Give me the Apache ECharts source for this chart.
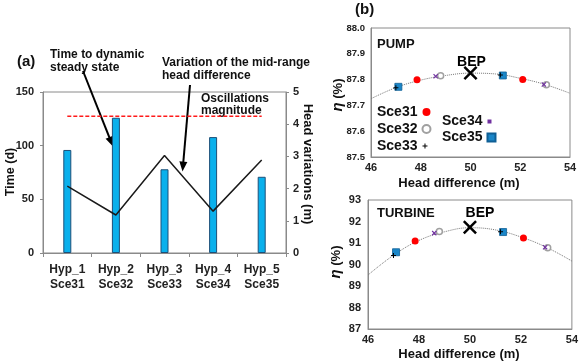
<!DOCTYPE html>
<html><head><meta charset="utf-8">
<script src="https://cdn.jsdelivr.net/npm/echarts@6/dist/echarts.min.js"></script>
<style>html,body{margin:0;padding:0;background:#fff}#c{width:581px;height:361px}</style>
</head><body><div id="c"></div>
<script>
// ---------- data (a) ----------
const categories = ['Hyp_1\nSce31', 'Hyp_2\nSce32', 'Hyp_3\nSce33', 'Hyp_4\nSce34', 'Hyp_5\nSce35'];
const timeToSteady = [96, 126, 78, 108, 71];          // Time (d)
const headVariation = [2.08, 1.18, 3.03, 1.30, 2.89]; // Head variations (m)
const oscMagnitude = 4.25;                            // red dashed level (m)
const timeTicks = [0, 50, 100, 150];
const headTicks = [0, 1, 2, 3, 4, 5];

// ---------- data (b) ----------
const headDiff = [46, 47, 48, 49, 50, 51, 52, 53, 54];
const pumpCurve = [87.726, 87.769, 87.798, 87.816, 87.825, 87.822, 87.805, 87.781, 87.747];
const turbineCurve = [89.51, 90.43, 91.12, 91.52, 91.71, 91.61, 91.28, 90.80, 90.16];

const pumpSce31 = [[47.85, 87.799], [52.10, 87.800]];
const pumpSce32 = [[48.80, 87.815], [53.05, 87.780]];
const pumpSce33 = [[47.00, 87.768], [51.20, 87.818]];
const pumpSce34 = [[48.60, 87.813], [52.95, 87.781]];
const pumpSce35 = [[47.10, 87.772], [51.30, 87.816]];
const pumpBEP = [[50.0, 87.826]];

const turbSce31 = [[47.85, 91.09], [52.10, 91.23]];
const turbSce32 = [[48.80, 91.53], [53.05, 90.78]];
const turbSce33 = [[47.00, 90.42], [51.20, 91.52]];
const turbSce34 = [[48.60, 91.46], [52.95, 90.80]];
const turbSce35 = [[47.10, 90.57], [51.30, 91.51]];
const turbBEP = [[50.0, 91.73]];

// ---------- styling ----------
const FF = 'Liberation Sans, Arial, sans-serif';
const AX = '#8a8a8a';
const PLUS = 'path://M4,0H6V4H10V6H6V10H4V6H0V4H4Z';
const XMARK = 'path://M0,2L2,0L8,6L14,0L16,2L10,8L16,14L14,16L8,10L2,16L0,14L6,8Z';

const sceStyle = {
  Sce31: {symbol: 'circle', symbolSize: 7, itemStyle: {color: '#ff0000', opacity: 1}},
  Sce32: {symbol: 'circle', symbolSize: 6, itemStyle: {color: '#ffffff', borderColor: '#a0a0a0', borderWidth: 1.5, opacity: 1}},
  Sce33: {symbol: PLUS, symbolSize: 5, itemStyle: {color: '#000000', opacity: 1}},
  Sce34: {symbol: PLUS, symbolSize: 6, symbolRotate: 45, itemStyle: {color: '#7030a0', opacity: 1}},
  Sce35: {symbol: 'rect', symbolSize: 7, itemStyle: {color: '#1a86c8', borderColor: '#0f5f95', borderWidth: 0.8, opacity: 1}}
};

function sceSeries(name, data, xi, yi) {
  return Object.assign({type: 'scatter', name, data, xAxisIndex: xi, yAxisIndex: yi, z: 4}, sceStyle[name]);
}
function curveSeries(name, data, xi, yi) {
  return {type: 'line', name, data: headDiff.map((x, i) => [x, data[i]]), xAxisIndex: xi, yAxisIndex: yi,
    smooth: 0.4, showSymbol: false, symbol: 'none', silent: true,
    lineStyle: {color: '#777', width: 1, type: 'dotted'}, z: 2};
}
function bepSeries(data, xi, yi, offset) {
  return {type: 'scatter', name: 'BEP', data, xAxisIndex: xi, yAxisIndex: yi, symbol: XMARK, symbolSize: 14,
    itemStyle: {color: '#000', opacity: 1}, z: 5,
    label: {show: true, position: 'top', distance: 1, offset, formatter: 'BEP',
      fontFamily: FF, fontSize: 14, fontWeight: 'bold', color: '#000'}};
}
function valAxisX(gi) {
  return {type: 'value', gridIndex: gi, min: 46, max: 54, interval: 2,
    axisLine: {show: true, lineStyle: {color: AX}}, axisTick: {show: false},
    splitLine: {show: false},
    axisLabel: {fontFamily: FF, fontSize: 11, fontWeight: 'bold', color: '#222', margin: 5}};
}
function leg(name, icon, size, left, cy) {
  return {data: [{name, icon}], left, top: cy - 8, align: 'right', orient: 'horizontal',
    itemWidth: size, itemHeight: size, padding: 0, itemGap: 0, selectedMode: false,
    textStyle: {fontFamily: FF, fontSize: 14, fontWeight: 'bold', color: '#111'}};
}

function arrow(x1, y1, x2, y2) {
  const dx = x2 - x1, dy = y2 - y1, L = Math.hypot(dx, dy), ux = dx / L, uy = dy / L;
  const hl = 10, hw = 4;
  const bx = x2 - ux * hl, by = y2 - uy * hl;
  return [
    {type: 'line', shape: {x1, y1, x2: bx + ux * 2, y2: by + uy * 2}, style: {stroke: '#000', lineWidth: 2}},
    {type: 'polygon', shape: {points: [[x2, y2], [bx - uy * hw, by + ux * hw], [bx + uy * hw, by - ux * hw]]}, style: {fill: '#000'}}
  ];
}
function txt(text, x, y, size, opts) {
  return Object.assign({type: 'text', x, y, style: Object.assign({text, fontFamily: FF, fontSize: size, fontWeight: 'bold',
    fill: '#111', align: 'left', verticalAlign: 'middle'}, (opts && opts.style) || {})}, opts && opts.el || {});
}

const chart = echarts.init(document.getElementById('c'), null, {renderer: 'canvas'});
chart.setOption({
  animation: false,
  backgroundColor: '#fff',
  grid: [
    {left: 43, top: 92, width: 243, height: 161, show: true, borderColor: AX, borderWidth: 1, containLabel: false},
    {left: 371, top: 28, width: 199, height: 129, show: true, borderColor: AX, borderWidth: 1},
    {left: 368, top: 200, width: 204, height: 129, show: true, borderColor: AX, borderWidth: 1}
  ],
  xAxis: [
    {type: 'category', gridIndex: 0, data: categories, boundaryGap: true,
      axisLine: {lineStyle: {color: AX}}, axisTick: {show: true, length: 4, lineStyle: {color: AX}},
      axisLabel: {fontFamily: FF, fontSize: 12, fontWeight: 'bold', color: '#222', lineHeight: 15, margin: 9}},
    valAxisX(1),
    valAxisX(2)
  ],
  yAxis: [
    {type: 'value', gridIndex: 0, min: timeTicks[0], max: timeTicks[timeTicks.length - 1], interval: 50,
      axisLine: {show: true, lineStyle: {color: AX}}, axisTick: {show: true, length: 3, lineStyle: {color: AX}},
      splitLine: {show: false},
      axisLabel: {fontFamily: FF, fontSize: 11, fontWeight: 'bold', color: '#222', margin: 9}},
    {type: 'value', gridIndex: 0, position: 'right', min: headTicks[0], max: headTicks[headTicks.length - 1], interval: 1,
      axisLine: {show: true, lineStyle: {color: AX}}, axisTick: {show: true, length: 3, lineStyle: {color: AX}},
      splitLine: {show: false},
      axisLabel: {fontFamily: FF, fontSize: 11, fontWeight: 'bold', color: '#222', margin: 7}},
    {type: 'value', gridIndex: 1, min: 87.5, max: 88.0, interval: 0.1,
      axisLine: {show: true, lineStyle: {color: AX}}, axisTick: {show: false}, splitLine: {show: false},
      axisLabel: {fontFamily: FF, fontSize: 9.5, fontWeight: 'bold', color: '#222', margin: 6,
        formatter: v => v.toFixed(1)}},
    {type: 'value', gridIndex: 2, min: 87, max: 93, interval: 1,
      axisLine: {show: true, lineStyle: {color: AX}}, axisTick: {show: false}, splitLine: {show: false},
      axisLabel: {fontFamily: FF, fontSize: 11, fontWeight: 'bold', color: '#222', margin: 7}}
  ],
  legend: [
    leg('Sce31', 'circle', 8, 377, 113),
    leg('Sce32', 'circle', 8, 377, 130),
    leg('Sce33', PLUS, 5, 377, 147),
    leg('Sce34', 'rect', 4, 442, 122.5),
    leg('Sce35', 'rect', 8, 442, 138.5)
  ],
  series: [
    {type: 'bar', name: 'Time to dynamic steady state', data: timeToSteady, xAxisIndex: 0, yAxisIndex: 0,
      barWidth: 8, itemStyle: {color: '#0ab0ec', borderColor: '#1d4f78', borderWidth: 1}, z: 2},
    {type: 'line', name: 'Variation of the mid-range head difference', data: headVariation, xAxisIndex: 0, yAxisIndex: 1,
      symbol: 'none', lineStyle: {color: '#1a1a1a', width: 1.5}, z: 3},
    {type: 'line', name: 'Oscillations magnitude', data: [[0, oscMagnitude], [categories.length - 1, oscMagnitude]],
      xAxisIndex: 0, yAxisIndex: 1, symbol: 'none', lineStyle: {color: '#ff1a1a', width: 1.5, type: [4, 2]}, z: 3},

    curveSeries('pumpCurve', pumpCurve, 1, 2),
    sceSeries('Sce31', pumpSce31, 1, 2),
    sceSeries('Sce32', pumpSce32, 1, 2),
    sceSeries('Sce34', pumpSce34, 1, 2),
    sceSeries('Sce35', pumpSce35, 1, 2),
    sceSeries('Sce33', pumpSce33, 1, 2),
    bepSeries(pumpBEP, 1, 2, [1, 4]),

    curveSeries('turbineCurve', turbineCurve, 2, 3),
    sceSeries('Sce31', turbSce31, 2, 3),
    sceSeries('Sce32', turbSce32, 2, 3),
    sceSeries('Sce34', turbSce34, 2, 3),
    sceSeries('Sce35', turbSce35, 2, 3),
    sceSeries('Sce33', turbSce33, 2, 3),
    bepSeries(turbBEP, 2, 3, [10, 1])
  ],
  graphic: [
    txt('(a)', 17, 62, 15),
    txt('(b)', 355, 10, 15),
    txt('Time to dynamic\nsteady state', 50, 61, 12, {style: {lineHeight: 12.5}}),
    txt('Variation of the mid-range\nhead difference', 162, 69.5, 12, {style: {lineHeight: 13}}),
    txt('Oscillations\nmagnitude', 201, 104.5, 12, {style: {lineHeight: 12}}),
    txt('PUMP', 377, 44, 13),
    txt('TURBINE', 377, 213, 13),
    txt('Time (d)', 11, 172, 12.5, {style: {align: 'center'}, el: {rotation: Math.PI / 2}}),
    txt('Head variations (m)', 308, 164, 13, {style: {align: 'center'}, el: {rotation: -Math.PI / 2}}),
    txt('Head difference (m)', 459, 183, 13, {style: {align: 'center'}}),
    txt('Head difference (m)', 459, 354, 13, {style: {align: 'center'}}),
    {type: 'text', x: 338, y: 95, rotation: Math.PI / 2, style: {
      text: '{i|η} (%)', align: 'center', verticalAlign: 'middle', fontFamily: FF, fontSize: 13, fontWeight: 'bold', fill: '#111',
      rich: {i: {fontFamily: FF, fontSize: 15, fontWeight: 'bold', fontStyle: 'italic', fill: '#111'}}}},
    {type: 'text', x: 336, y: 262, rotation: Math.PI / 2, style: {
      text: '{i|η} (%)', align: 'center', verticalAlign: 'middle', fontFamily: FF, fontSize: 13, fontWeight: 'bold', fill: '#111',
      rich: {i: {fontFamily: FF, fontSize: 15, fontWeight: 'bold', fontStyle: 'italic', fill: '#111'}}}},
    ...arrow(83, 71, 113, 146.5),
    ...arrow(190, 85, 182.5, 171.5)
  ]
});
</script>
</body></html>
